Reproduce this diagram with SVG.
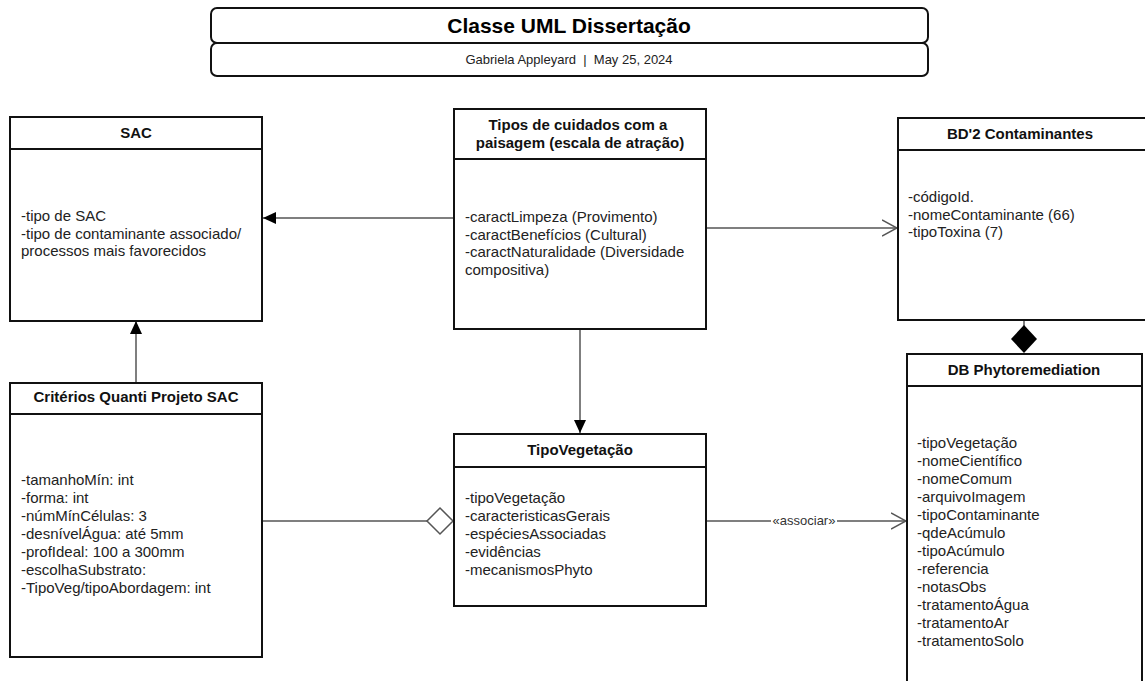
<svg xmlns="http://www.w3.org/2000/svg" width="1145" height="681" viewBox="0 0 1145 681">
  <defs>
    <style>
      .box { fill: #ffffff; stroke: #111111; stroke-width: 2; }
      .sep { stroke: #111111; stroke-width: 2; }
      .hdr { font-family: "Liberation Sans", Arial, sans-serif; font-size: 15px; font-weight: bold; fill: #111111; text-anchor: middle; }
      .attr { font-family: "Liberation Sans", Arial, sans-serif; font-size: 15px; fill: #222222; }
      .conn { stroke: #555555; stroke-width: 1.5; fill: none; }
      .title { font-family: "Liberation Sans", Arial, sans-serif; font-size: 21px; font-weight: bold; fill: #000000; text-anchor: middle; }
      .sub { font-family: "Liberation Sans", Arial, sans-serif; font-size: 13px; fill: #222222; text-anchor: middle; }
      .lbl { font-family: "Liberation Sans", Arial, sans-serif; font-size: 13px; fill: #333333; text-anchor: middle; }
    </style>
    <marker id="filled" markerUnits="userSpaceOnUse" markerWidth="14" markerHeight="12" refX="13" refY="6" orient="auto">
      <path d="M0,0 L13,6 L0,12 Z" fill="#000000"/>
    </marker>
    <marker id="open" markerUnits="userSpaceOnUse" markerWidth="16" markerHeight="18" refX="15" refY="9" orient="auto">
      <path d="M0,1 L15,9 L0,17" fill="none" stroke="#555555" stroke-width="1.5"/>
    </marker>
  </defs>

  <rect width="1145" height="681" fill="#ffffff"/>

  <!-- title block -->
  <g id="title">
    <rect x="211" y="8" width="717" height="35" rx="6" class="box"/>
    <rect x="211" y="43" width="717" height="33" rx="6" class="box"/>
    <text x="569" y="33" class="title">Classe UML Dissertação</text>
    <text x="569" y="64" class="sub">Gabriela Appleyard&#160;&#160;|&#160;&#160;May 25, 2024</text>
  </g>

  <!-- connectors -->
  <g id="connectors">
    <!-- Tipos de cuidados -> SAC -->
    <line x1="454" y1="218" x2="263" y2="218" class="conn" marker-end="url(#filled)"/>
    <!-- Tipos de cuidados -> BD'2 Contaminantes -->
    <line x1="706" y1="228" x2="897" y2="228" class="conn" marker-end="url(#open)"/>
    <!-- Critérios -> SAC -->
    <line x1="136" y1="383" x2="136" y2="321" class="conn" marker-end="url(#filled)"/>
    <!-- Tipos de cuidados -> TipoVegetação -->
    <line x1="580" y1="329" x2="580" y2="433" class="conn" marker-end="url(#filled)"/>
    <!-- Critérios <>- TipoVegetação (aggregation) -->
    <line x1="262" y1="521" x2="427" y2="521" class="conn"/>
    <path d="M427,521 L440,508 L453,521 L440,534 Z" fill="#ffffff" stroke="#555555" stroke-width="1.5"/>
    <!-- TipoVegetação -> DB Phytoremediation -->
    <line x1="706" y1="521" x2="906" y2="521" class="conn" marker-end="url(#open)"/>
    <rect x="771" y="513" width="66" height="15" fill="#ffffff"/>
    <text x="804" y="525" class="lbl">«associar»</text>
    <!-- BD'2 Contaminantes <#>- DB Phytoremediation (composition) -->
    <line x1="1024" y1="320" x2="1024" y2="326" class="conn"/>
    <path d="M1024,325 L1037,339 L1024,353 L1011,339 Z" fill="#000000"/>
  </g>

  <!-- SAC -->
  <g id="sac">
    <rect x="10" y="117" width="252" height="204" class="box"/>
    <line x1="10" y1="149" x2="262" y2="149" class="sep"/>
    <text x="136" y="138" class="hdr">SAC</text>
    <text class="attr">
      <tspan x="21" y="221">-tipo de SAC</tspan>
      <tspan x="21" y="238.5">-tipo de contaminante associado/</tspan>
      <tspan x="21" y="256">processos mais favorecidos</tspan>
    </text>
  </g>

  <!-- Tipos de cuidados com a paisagem -->
  <g id="tipos-cuidados">
    <rect x="454" y="109" width="252" height="220" class="box"/>
    <line x1="454" y1="159" x2="706" y2="159" class="sep"/>
    <text class="hdr">
      <tspan x="580" y="130">Tipos de cuidados com a</tspan>
      <tspan x="580" y="148">paisagem (escala de atração)</tspan>
    </text>
    <text class="attr">
      <tspan x="465" y="222">-caractLimpeza (Provimento)</tspan>
      <tspan x="465" y="239.5">-caractBenefícios (Cultural)</tspan>
      <tspan x="465" y="257">-caractNaturalidade (Diversidade</tspan>
      <tspan x="465" y="274.5">compositiva)</tspan>
    </text>
  </g>

  <!-- BD'2 Contaminantes -->
  <g id="bd2-contaminantes">
    <rect x="898" y="118" width="260" height="202" class="box"/>
    <line x1="898" y1="150" x2="1158" y2="150" class="sep"/>
    <text x="1020" y="139" class="hdr">BD'2 Contaminantes</text>
    <text class="attr">
      <tspan x="908" y="202">-códigoId.</tspan>
      <tspan x="908" y="219.5">-nomeContaminante (66)</tspan>
      <tspan x="908" y="237">-tipoToxina (7)</tspan>
    </text>
  </g>

  <!-- Critérios Quanti Projeto SAC -->
  <g id="criterios">
    <rect x="10" y="383" width="252" height="274" class="box"/>
    <line x1="10" y1="414" x2="262" y2="414" class="sep"/>
    <text x="136" y="402" class="hdr">Critérios Quanti Projeto SAC</text>
    <text class="attr">
      <tspan x="21" y="485">-tamanhoMín: int</tspan>
      <tspan x="21" y="503">-forma: int</tspan>
      <tspan x="21" y="521">-númMínCélulas: 3</tspan>
      <tspan x="21" y="539">-desnívelÁgua: até 5mm</tspan>
      <tspan x="21" y="557">-profIdeal: 100 a 300mm</tspan>
      <tspan x="21" y="575">-escolhaSubstrato:</tspan>
      <tspan x="21" y="593">-TipoVeg/tipoAbordagem: int</tspan>
    </text>
  </g>

  <!-- TipoVegetação -->
  <g id="tipo-vegetacao">
    <rect x="454" y="434" width="252" height="172" class="box"/>
    <line x1="454" y1="467" x2="706" y2="467" class="sep"/>
    <text x="580" y="455" class="hdr">TipoVegetação</text>
    <text class="attr">
      <tspan x="465" y="503">-tipoVegetação</tspan>
      <tspan x="465" y="521">-caracteristicasGerais</tspan>
      <tspan x="465" y="539">-espéciesAssociadas</tspan>
      <tspan x="465" y="557">-evidências</tspan>
      <tspan x="465" y="575">-mecanismosPhyto</tspan>
    </text>
  </g>

  <!-- DB Phytoremediation -->
  <g id="db-phytoremediation">
    <rect x="907" y="354" width="235" height="340" class="box"/>
    <line x1="907" y1="386" x2="1142" y2="386" class="sep"/>
    <text x="1024" y="375" class="hdr">DB Phytoremediation</text>
    <text class="attr">
      <tspan x="917" y="448">-tipoVegetação</tspan>
      <tspan x="917" y="466">-nomeCientífico</tspan>
      <tspan x="917" y="484">-nomeComum</tspan>
      <tspan x="917" y="502">-arquivoImagem</tspan>
      <tspan x="917" y="520">-tipoContaminante</tspan>
      <tspan x="917" y="538">-qdeAcúmulo</tspan>
      <tspan x="917" y="556">-tipoAcúmulo</tspan>
      <tspan x="917" y="574">-referencia</tspan>
      <tspan x="917" y="592">-notasObs</tspan>
      <tspan x="917" y="610">-tratamentoÁgua</tspan>
      <tspan x="917" y="628">-tratamentoAr</tspan>
      <tspan x="917" y="646">-tratamentoSolo</tspan>
    </text>
  </g>
</svg>
